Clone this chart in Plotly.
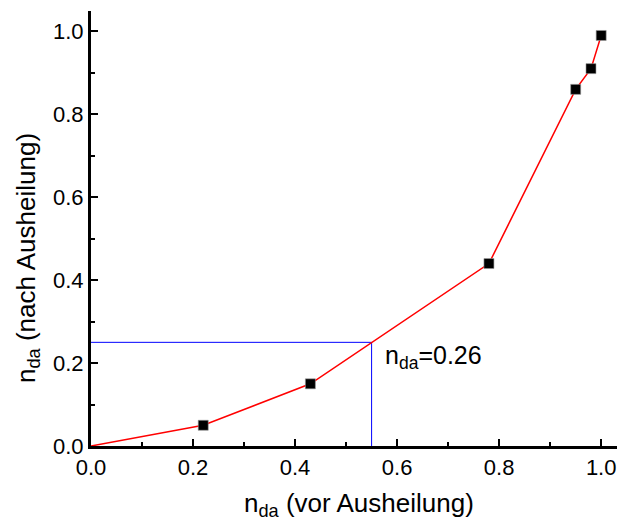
import plotly.graph_objects as go

# data
x_vals = [0.0, 0.22, 0.43, 0.78, 0.95, 0.98, 1.0]
y_vals = [0.0, 0.05, 0.15, 0.44, 0.86, 0.91, 0.99]
marker_x = [0.22, 0.43, 0.78, 0.95, 0.98, 1.0]
marker_y = [0.05, 0.15, 0.44, 0.86, 0.91, 0.99]
guide_x = [0.0, 0.55, 0.55]
guide_y = [0.25, 0.25, 0.0]
annot_text = "n<sub>da</sub>=0.26"
x_title = "n<sub>da</sub> (vor Ausheilung)"
y_title = "n<sub>da</sub> (nach Ausheilung)"

FONT = "Liberation Sans, Arial, sans-serif"

fig = go.Figure()
fig.add_trace(go.Scatter(x=guide_x, y=guide_y, mode="lines",
                         line=dict(color="#0000ff", width=1), hoverinfo="skip"))
fig.add_trace(go.Scatter(x=x_vals, y=y_vals, mode="lines",
                         line=dict(color="#ff0000", width=1.5)))
fig.add_trace(go.Scatter(x=marker_x, y=marker_y, mode="markers",
                         marker=dict(symbol="square", size=10, color="black",
                                     line=dict(color="#999999", width=0.6))))

axis_common = dict(
    showline=True, linecolor="black", linewidth=3, mirror=False,
    ticks="inside", ticklen=7, tickwidth=2, tickcolor="black",
    showgrid=False, zeroline=False, dtick=0.2, tick0=0, tickformat=".1f",
    tickfont=dict(size=22, family=FONT, color="black"),
    minor=dict(ticks="inside", ticklen=4, tickwidth=2, tickcolor="black", dtick=0.1),
)

fig.update_layout(
    width=618, height=525,
    margin=dict(l=91, r=1, t=11, b=79),
    paper_bgcolor="white", plot_bgcolor="white",
    showlegend=False,
    font=dict(family=FONT, color="black"),
    xaxis=dict(range=[0, 1.031], **axis_common),
    yaxis=dict(range=[0, 1.049], **axis_common),
    annotations=[
        dict(x=0.5725, y=0.214, xref="x", yref="y", text=annot_text, showarrow=False,
             xanchor="left", yanchor="middle", font=dict(size=25, family=FONT, color="black")),
        dict(x=(359 - 91) / 526, y=-(505 - 446) / 435, xref="paper", yref="paper", text=x_title,
             showarrow=False, xanchor="center", yanchor="middle",
             font=dict(size=26, family=FONT, color="black")),
        dict(x=(27 - 91) / 526, y=(446 - 258) / 435, xref="paper", yref="paper", text=y_title,
             showarrow=False, xanchor="center", yanchor="middle", textangle=-90,
             font=dict(size=26, family=FONT, color="black")),
    ],
)

fig.write_html("out.html")
